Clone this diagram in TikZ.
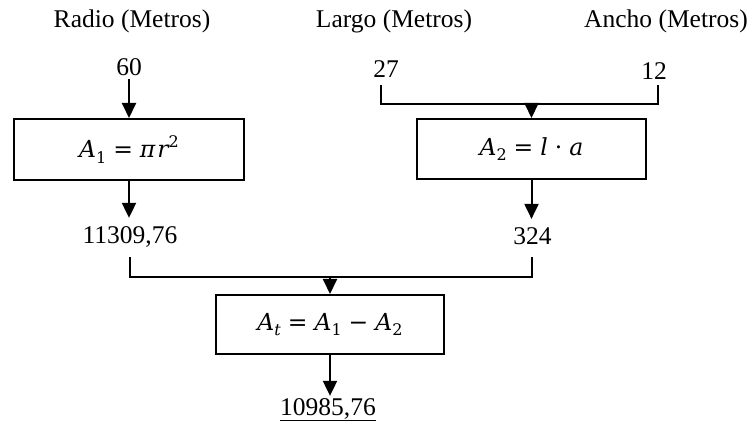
\documentclass[tikz,border=0pt]{standalone}
\usepackage{fontspec}
\setmainfont{Liberation Serif}
\newfontfamily\dvs{DejaVu Serif}
\usetikzlibrary{arrows.meta}
\newcommand{\mi}[1]{{\dvs\itshape #1}}
\newcommand{\msub}[1]{\raisebox{-5.5pt}{\fontsize{16}{18}\selectfont\dvs #1}}
\newcommand{\msup}[1]{\raisebox{10pt}{\fontsize{16}{18}\selectfont\dvs #1}}
\newcommand{\mop}[1]{\hspace{7pt}{\dvs #1}\hspace{7pt}}
\begin{document}
\begin{tikzpicture}[x=1pt,y=-1pt,
  txt/.style={font=\fontsize{25.5}{30}\selectfont, inner sep=0pt, anchor=base},
  formula/.style={draw, line width=2pt, font=\fontsize{23.5}{28}\selectfont, inner sep=0pt},
  line/.style={line width=2pt},
  arr/.style={line width=2pt, -{Triangle[length=15pt,width=14pt]}}
]
\useasboundingbox (0,0) rectangle (755,430);
% headings
\node[txt] (hr) at (132,28) {Radio (Metros)};
\node[txt] (hl) at (394,28) {Largo (Metros)};
\node[txt] (ha) at (666,28) {Ancho (Metros)};
% inputs
\node[txt] (n60) at (129,76) {60};
\node[txt] (n27) at (386,78) {27};
\node[txt] (n12) at (654,80) {12};
% boxes
\node[formula, minimum width=230pt, minimum height=61pt] (b1) at (129,149.5)
  {\mi{A}\msub{1}\mop{=}\mi{π\kern2pt r}\msup{2}};
\node[formula, minimum width=229pt, minimum height=60pt] (b2) at (531.5,149)
  {\mi{A}\msub{2}\mop{=}\mi{l}\mop{·}\mi{a}};
\node[formula, minimum width=228pt, minimum height=59pt] (b3) at (330,324.5)
  {\mi{A}\msub{\itshape t}\mop{=}\mi{A}\msub{1}\mop{−}\mi{A}\msub{2}};
% results
\node[txt] (n1) at (130,244) {11309,76};
\node[txt] (n2) at (532.5,245) {324};
\node[txt] (nt) at (328,415) {\underline{10985,76}};
% connector points
\coordinate (t1) at (381,85);
\coordinate (t2) at (658,85);
\coordinate (j1) at (531.5,104);
\coordinate (u1) at (130,257);
\coordinate (u2) at (532,257);
\coordinate (j2) at (330,277);
% connectors
\draw[arr] ([yshift=-3pt]n60.south) -- (b1.north);
\draw[line] (t1) |- (j1) -| (t2);
\draw[arr] (j1) -- (b2.north);
\draw[arr] (b1.south) -- ([yshift=9pt]b1.south |- n1.north);
\draw[arr] (b2.south) -- ([yshift=9pt]b2.south |- n2.north);
\draw[line] (u1) |- (j2) -| (u2);
\draw[arr] (j2) -- (b3.north);
\draw[arr] (b3.south) -- ([yshift=2pt]b3.south |- nt.north);
\end{tikzpicture}
\end{document}
